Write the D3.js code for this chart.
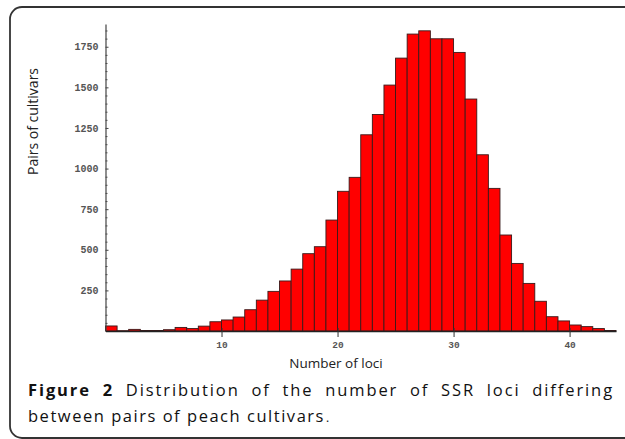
<!DOCTYPE html>
<html>
<head>
<meta charset="utf-8">
<script src="https://cdn.jsdelivr.net/npm/d3@7"></script>
<style>
  body { margin: 0; background: #fff; }
  svg { display: block; }
  .tick text { font-family: "Liberation Mono", "DejaVu Sans Mono", monospace; font-weight: bold; fill: #555; }
</style>
</head>
<body>
<div id="chart"></div>
<script>
// bin start (number of loci) and pair counts
var loci = [0, 1, 2, 3, 4, 5, 6, 7, 8, 9, 10, 11, 12, 13, 14, 15, 16, 17, 18, 19, 20, 21,
            22, 23, 24, 25, 26, 27, 28, 29, 30, 31, 32, 33, 34, 35, 36, 37, 38, 39, 40, 41, 42, 43];
var pairs = [31, 2, 10, 3, 3, 8, 22, 15, 30, 57, 68, 86, 131, 190, 244, 308, 381, 476, 519, 683,
             860, 946, 1208, 1333, 1514, 1680, 1828, 1848, 1799, 1799, 1715, 1428, 1085, 878, 591,
             416, 293, 183, 88, 62, 37, 27, 15, 3];
var xTicks = [10, 20, 30, 40];
var yTicks = [250, 500, 750, 1000, 1250, 1500, 1750];
var yMinor = [50, 100, 150, 200, 300, 350, 400, 450, 550, 600, 650, 700, 800, 850, 900, 950,
              1050, 1100, 1150, 1200, 1300, 1350, 1400, 1450, 1550, 1600, 1650, 1700, 1800, 1850];

var svgWidth = 625, svgHeight = 439;
var plot = {left: 105.5, right: 616, top: 24, bottom: 331};

var svg = d3.select("#chart").append("svg")
    .attr("width", svgWidth)
    .attr("height", svgHeight)

// rounded frame of the figure box
svg.append("rect")
    .attr("x", 10)
    .attr("y", 7)
    .attr("width", 640)
    .attr("height", 431)
    .attr("rx", 12)
    .attr("fill", "none")
    .attr("stroke", "#333")
    .attr("stroke-width", 1.8)

var x = d3.scaleLinear()
    .domain([0, 44])
    .range([plot.left, plot.right]);

var y = d3.scaleLinear()
    .domain([0, 1890])
    .range([plot.bottom, plot.top]);

// bars
svg.append("g")
    .selectAll("rect")
    .data(pairs)
    .enter().append("rect")
    .attr("x", (d, i) => x(loci[i]))
    .attr("width", (d, i) => x(loci[i] + 1) - x(loci[i]))
    .attr("y", d => y(d))
    .attr("height", d => y(0) - y(d))
    .attr("fill", "#ff0000")
    .attr("stroke", "#3a1a1a")
    .attr("stroke-width", 0.9)

// y minor ticks
svg.append("g")
    .attr("transform", `translate(${plot.left}, 0)`)
    .call(d3.axisLeft(y).tickValues(yMinor).tickSize(2).tickFormat(""))
    .call(g => g.select(".domain").remove())
    .call(g => g.selectAll(".tick line").attr("x2", 2).attr("stroke", "#555"))

// y axis
svg.append("g")
    .attr("transform", `translate(${plot.left}, 0)`)
    .call(d3.axisLeft(y).tickValues(yTicks).tickSize(3).tickPadding(4).tickSizeOuter(0).tickFormat(d3.format("d")))
    .call(g => g.select(".domain").attr("stroke", "#444").attr("stroke-width", 1.2))
    .call(g => g.selectAll(".tick line").attr("x2", 3).attr("stroke", "#444"))
    .call(g => g.selectAll(".tick text").attr("font-size", 10))

// x axis
svg.append("g")
    .attr("transform", `translate(0, ${plot.bottom})`)
    .call(d3.axisBottom(x).tickValues(xTicks).tickSize(6).tickPadding(4).tickSizeOuter(0))
    .call(g => g.select(".domain").attr("stroke", "#222").attr("stroke-width", 1.4))
    .call(g => g.selectAll(".tick line").attr("y1", -3).attr("stroke", "#333"))
    .call(g => g.selectAll(".tick text").attr("font-size", 9.5))

// axis titles
svg.append("text")
    .attr("x", 336)
    .attr("y", 368)
    .attr("text-anchor", "middle")
    .style("font-family", "Open Sans")
    .style("font-size", "13.5px")
    .attr("fill", "#222")
    .text("Number of loci")

svg.append("text")
    .attr("transform", "translate(38, 121.5) rotate(-90)")
    .attr("text-anchor", "middle")
    .style("font-family", "Open Sans")
    .style("font-size", "14px")
    .attr("fill", "#222")
    .text("Pairs of cultivars")

// caption, justified like the journal layout
var cap = svg.append("g")
    .style("font-family", "Open Sans")
    .style("font-size", "16.5px")
    .attr("fill", "#111")

var line1 = cap.append("text")
    .attr("x", 28).attr("y", 396)
    .attr("letter-spacing", 1.9)

line1.append("tspan")
    .attr("font-weight", "bold")
    .text("Figure 2")

line1.append("tspan")
    .text(" Distribution of the number of SSR loci differing")

var w1 = line1.node().getComputedTextLength();
line1.attr("word-spacing", (614 - 28 - w1) / 9)

var line2 = cap.append("text")
    .attr("x", 28).attr("y", 422)
    .text("between pairs of peach cultivars")

var w2 = line2.node().getComputedTextLength();
line2.attr("letter-spacing", Math.max(0, (325 - 28 - w2) / 32))

cap.append("text")
    .attr("x", 326).attr("y", 422)
    .style("font-size", "12px")
    .text(".")
</script>
</body>
</html>
